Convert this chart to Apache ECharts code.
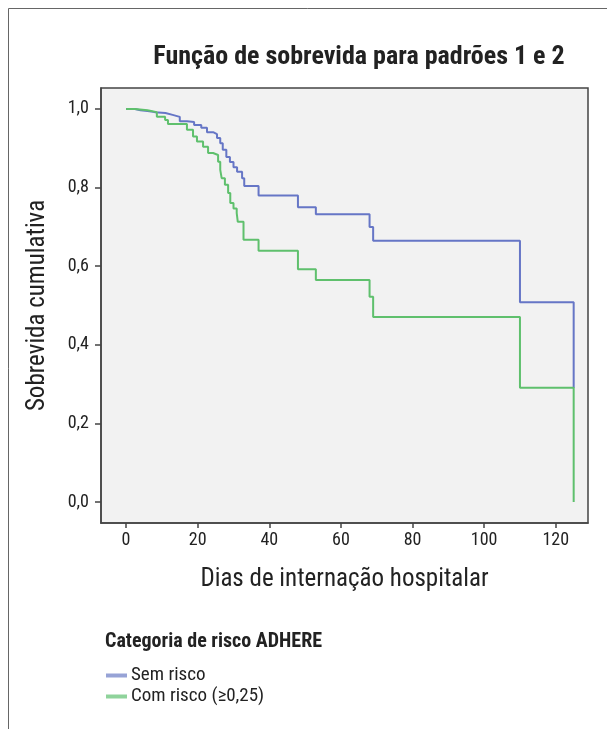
<!DOCTYPE html>
<html>
<head>
<meta charset="utf-8">
<script src="https://cdn.jsdelivr.net/npm/echarts@6/dist/echarts.min.js"></script>
<style>
html,body{margin:0;padding:0;background:#fff;}
#c{width:607px;height:729px;}
</style>
</head>
<body>
<div id="c"></div>
<script>
// Kaplan-Meier steps: [day, survival after event]
const semRiscoDays = [0, 2.5, 4, 6, 8, 11, 13, 15, 17, 19, 21, 22.6, 24.3, 25.4, 26.3, 27, 28, 29, 30, 31, 32.4, 33, 37, 48, 53, 68, 69, 110, 125];
const semRiscoSurv = [1.0, 0.997, 0.995, 0.992, 0.990, 0.985, 0.980, 0.969, 0.967, 0.959, 0.952, 0.941, 0.936, 0.926, 0.913, 0.896, 0.878, 0.865, 0.852, 0.840, 0.824, 0.804, 0.780, 0.750, 0.732, 0.700, 0.665, 0.508, 0.290];
const comRiscoDays = [0, 2.5, 6, 8.6, 10.9, 11.7, 17, 18.7, 19.8, 21.5, 22.9, 24.3, 25.7, 26.3, 26.7, 27.6, 28.5, 29.1, 30, 30.9, 31.2, 32.8, 37, 48, 53, 68, 69, 110, 125];
const comRiscoSurv = [1.0, 0.997, 0.992, 0.980, 0.972, 0.962, 0.947, 0.930, 0.917, 0.904, 0.888, 0.883, 0.866, 0.845, 0.824, 0.807, 0.786, 0.761, 0.747, 0.735, 0.713, 0.667, 0.639, 0.592, 0.565, 0.522, 0.471, 0.291, 0.0];
const xTicks = [0, 20, 40, 60, 80, 100, 120];
const yTicks = [0, 0.2, 0.4, 0.6, 0.8, 1.0];
const seriesNames = ['Sem risco', 'Com risco (\u22650,25)'];

const zip = (a, b) => a.map((v, i) => [v, b[i]]);
const condensed = '"Roboto Condensed", "Liberation Sans Narrow", "Arial Narrow", Roboto, sans-serif';

const chart = echarts.init(document.getElementById('c'), null, {renderer: 'canvas'});
chart.setOption({
  animation: false,
  backgroundColor: '#ffffff',
  title: {
    text: 'Função de sobrevida para padrões 1 e 2',
    left: 354, top: 39, textAlign: 'center',
    textStyle: {fontFamily: condensed, fontSize: 26, fontWeight: 'bold', color: '#222'}
  },
  graphic: [
    {type: 'line', shape: {x1: 8.5, y1: 8.5, x2: 607, y2: 8.5}, style: {stroke: '#666', lineWidth: 1}},
    {type: 'line', shape: {x1: 8.5, y1: 8.5, x2: 8.5, y2: 729}, style: {stroke: '#666', lineWidth: 1}},
    {type: 'text', left: 105, top: 632, style: {text: 'Categoria de risco ADHERE', fontFamily: condensed, fontSize: 20, fontWeight: 'bold', fill: '#222'}}
  ],
  legend: {
    orient: 'vertical', left: 101, top: 661, itemGap: 2,
    itemWidth: 21, itemHeight: 4, icon: 'rect',
    textStyle: {fontFamily: condensed, fontSize: 19, color: '#222', padding: [0, 0, 0, -1]},
    data: [
      {name: seriesNames[0], itemStyle: {color: '#97a3d6'}},
      {name: seriesNames[1], itemStyle: {color: '#8fd39b'}}
    ]
  },
  grid: {
    left: 101, right: 19, top: 88, bottom: 206,
    show: true, backgroundColor: '#f2f2f2', borderColor: '#444', borderWidth: 1.5
  },
  xAxis: {
    type: 'value', min: -7, max: 129,
    name: 'Dias de internação hospitalar', nameLocation: 'middle', nameGap: 44,
    nameTextStyle: {fontFamily: condensed, fontSize: 25, color: '#222'},
    axisLine: {show: true, onZero: false, lineStyle: {color: '#444', width: 1.5}},
    axisTick: {show: true, length: 5, customValues: xTicks, lineStyle: {color: '#444', width: 1.5}},
    axisLabel: {customValues: xTicks, fontFamily: condensed, fontSize: 18, color: '#222', margin: 8},
    splitLine: {show: false}
  },
  yAxis: {
    type: 'value', min: -0.0534, max: 1.0534,
    name: 'Sobrevida cumulativa', nameLocation: 'middle', nameGap: 51,
    nameTextStyle: {fontFamily: condensed, fontSize: 25, color: '#222'},
    axisLine: {show: true, onZero: false, lineStyle: {color: '#444', width: 1.5}},
    axisTick: {show: true, length: 6, customValues: yTicks, lineStyle: {color: '#444', width: 1.5}},
    axisLabel: {customValues: yTicks, fontFamily: condensed, fontSize: 18, color: '#222', margin: 12,
      formatter: v => v.toFixed(1).replace('.', ',')},
    splitLine: {show: false}
  },
  series: [
    {name: seriesNames[0], type: 'line', step: 'end', data: zip(semRiscoDays, semRiscoSurv),
      showSymbol: false, lineStyle: {color: '#6676c6', width: 2}, itemStyle: {color: '#6676c6'}, z: 2},
    {name: seriesNames[1], type: 'line', step: 'end', data: zip(comRiscoDays, comRiscoSurv),
      showSymbol: false, lineStyle: {color: '#5fc06d', width: 2}, itemStyle: {color: '#5fc06d'}, z: 3}
  ]
});
</script>
</body>
</html>
